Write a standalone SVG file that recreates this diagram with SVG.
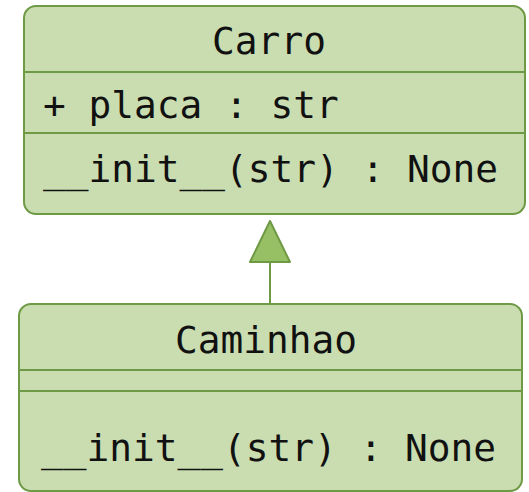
<svg xmlns="http://www.w3.org/2000/svg" width="529" height="492" viewBox="0 0 529 492">
<style>
.box{fill:#c9ddb0;stroke:#6f9a45;stroke-width:2}
.sep{stroke:#6f9a45;stroke-width:2}
.t{font-family:"DejaVu Sans Mono",monospace;font-size:37.8px;fill:#111}
.c{text-anchor:middle}
</style>
<rect width="529" height="492" fill="#ffffff"/>
<g id="Carro">
<rect class="box" x="24" y="6" width="501" height="208" rx="12"/>
<line class="sep" x1="24" y1="72" x2="525" y2="72"/>
<line class="sep" x1="24" y1="133" x2="525" y2="133"/>
<text class="t c" x="269" y="54">Carro</text>
<text class="t" x="43" y="118">+ placa : str</text>
<text class="t" x="43" y="182">__init__(str) : None</text>
</g>
<g id="Caminhao">
<rect class="box" x="19" y="304" width="503" height="187" rx="12"/>
<line class="sep" x1="19" y1="370" x2="522" y2="370"/>
<line class="sep" x1="19" y1="391" x2="522" y2="391"/>
<text class="t c" x="266" y="353">Caminhao</text>
<text class="t" x="41" y="461">__init__(str) : None</text>
</g>
<g id="connectors">
<line x1="270" y1="262" x2="270" y2="304" stroke="#6f9a45" stroke-width="2"/>
<polygon points="270,221 250,262 290,262" fill="#97bf63" stroke="#6f9a45" stroke-width="2" stroke-linejoin="round"/>
</g>
</svg>
